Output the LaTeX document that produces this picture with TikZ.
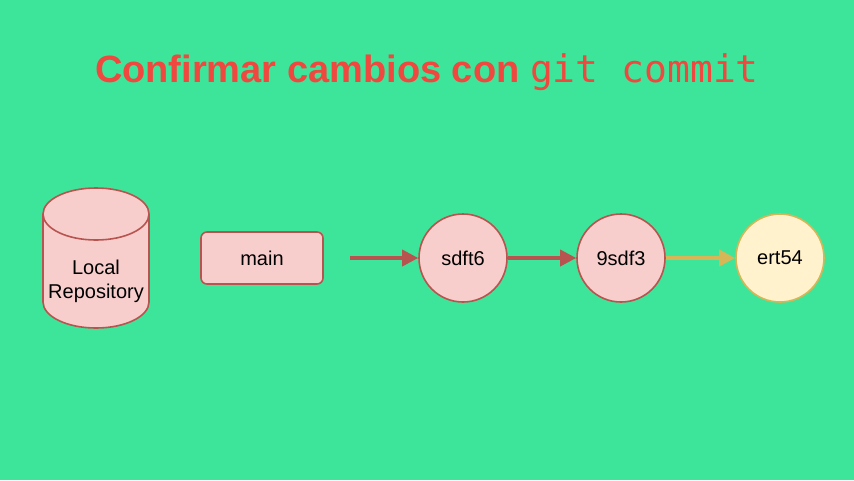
\documentclass[tikz,border=0pt]{standalone}
\usepackage{fontspec}
\setmainfont{Liberation Sans}
\newfontfamily\codefont{DejaVu Sans Mono}
\usetikzlibrary{arrows.meta}
\definecolor{bg}{HTML}{3DE59A}
\definecolor{rfill}{HTML}{F8CECC}
\definecolor{rline}{HTML}{B85450}
\definecolor{yfill}{HTML}{FFF2CC}
\definecolor{yline}{HTML}{D6B656}
\definecolor{ttl}{HTML}{F0473F}
\begin{document}
\begin{tikzpicture}[x=1pt,y=-1pt,
  txt/.style={font=\fontsize{20}{24}\selectfont},
  rbox/.style={draw=rline,fill=rfill,line width=1.6pt,rounded corners=6pt,minimum width=122pt,minimum height=52pt,txt},
  commitnode/.style={circle,draw=rline,fill=rfill,line width=1.6pt,minimum size=88pt,inner sep=0pt,txt},
  newnode/.style={commitnode,draw=yline,fill=yfill},
  arr/.style={-{Triangle[length=16pt,width=16pt]},line width=3.5pt,draw=rline}]
\fill[bg] (0,0) rectangle (854,480);
\useasboundingbox (0,0) rectangle (854,480);
\node[text=ttl,font=\fontsize{38}{44}\selectfont\bfseries] (title) at (427,72) {Confirmar cambios con {\codefont\mdseries git commit}};
% cylinder
\draw[draw=rline,fill=rfill,line width=1.6pt] (43,214) -- (43,302) arc[start angle=180,end angle=0,x radius=53,y radius=26] -- (149,214) arc[start angle=0,end angle=-180,x radius=53,y radius=26] -- cycle;
\draw[draw=rline,line width=1.6pt] (43,214) arc[start angle=180,end angle=0,x radius=53,y radius=26];
\node[txt,align=center] (repo) at (96,281) {Local\\Repository};
\node[rbox] (main) at (262,258) {main};
\node[commitnode] (c1) at (463,258) {sdft6};
\node[commitnode] (c2) at (621,258) {9sdf3};
\node[newnode] (c3) at (780,258) {ert54};
\coordinate (s) at (350,258);
\draw[arr] (s) -- (c1);
\draw[arr] (c1) -- (c2);
\draw[arr,draw=yline] (c2) -- (c3);
\end{tikzpicture}
\end{document}
